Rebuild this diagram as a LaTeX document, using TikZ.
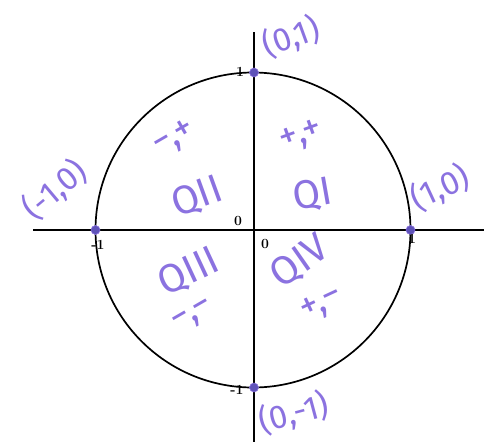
\documentclass[tikz,border=0pt]{standalone}
\usepackage{fontspec}
\newfontfamily\hand{Fira Sans}
\definecolor{pen}{HTML}{8B72E0}
\definecolor{dotc}{HTML}{5E52B8}
\begin{document}
\begin{tikzpicture}[x=1pt,y=-1pt,
  axis/.style={line width=1.6pt,black},
  ring/.style={line width=1.7pt,black},
  pt/.style={circle,fill=dotc,draw=pen,line width=0.6pt,inner sep=0pt,minimum size=9pt},
  tick/.style={font=\fontsize{14}{14}\selectfont\bfseries,inner sep=0pt},
  hw/.style={text=pen,inner sep=0pt,font=\hand\fontsize{33}{33}\selectfont},
  hs/.style={text=pen,inner sep=0pt,font=\hand\fontsize{38}{38}\selectfont},
  hq/.style={text=pen,inner sep=0pt,font=\hand\fontsize{40}{40}\selectfont}]
\useasboundingbox (0,0) rectangle (484,447);
\fill[white] (0,0) rectangle (484,447);
\coordinate (O) at (253,230);
\coordinate (xl) at (33,230);
\coordinate (xr) at (484,230);
\coordinate (yt) at (254,32);
\coordinate (yb) at (254,442);
\draw[axis] (xl) -- (xr);
\draw[axis] (yt) -- (yb);
\draw[ring] (O) circle[radius=157.5];
\node[pt] (pl) at (95.5,230) {};
\node[pt] (pr) at (410.5,230) {};
\node[pt] (pu) at (254,72.5) {};
\node[pt] (pd) at (254,387.5) {};
% tick labels
\node[tick] (t1) at (240,72) {1};
\node[tick] (tm1) at (237,390) {-1};
\node[tick] (tl) at (98,245) {-1};
\node[tick] (tr) at (412,239) {1};
\node[tick] (z1) at (238,221) {0};
\node[tick] (z2) at (265,244) {0};
% handwritten labels
\node[hw,rotate=40] (lm) at (55,190) {(-1,0)};
\node[hw,rotate=20] (lu) at (291,37) {(0,1)};
\node[hw,rotate=25] (lr) at (440,188) {(1,0)};
\node[hw,rotate=15] (ld) at (294,413) {(0,-1)};
\node[hs,rotate=30] (s2) at (175,139) {−,+};
\node[hs,rotate=20] (s1) at (302,137) {+,+};
\node[hs,rotate=30] (s3) at (194,317) {−,−};
\node[hs,rotate=25] (s4) at (322,305) {+,−};
\node[hq,rotate=20] (q2) at (197,197) {QII};
\node[hq,rotate=10] (q1) at (313,195) {QI};
\node[hq,rotate=25] (q3) at (189,272) {QIII};
\node[hq,rotate=35] (q4) at (300,262) {QIV};
\end{tikzpicture}
\end{document}
